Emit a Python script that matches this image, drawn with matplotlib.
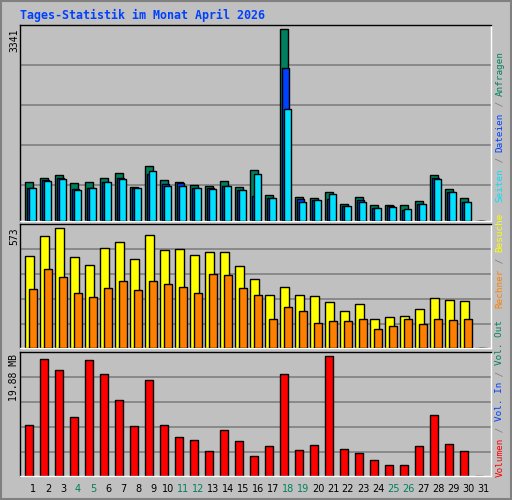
import matplotlib
matplotlib.use("Agg")
import matplotlib.pyplot as plt
import numpy as np

days = list(range(1, 32))
hits = [682,752,810,665,682,752,840,595,968,717,682,636,612,700,595,892,455,3341,420,402,507,297,420,280,280,280,350,810,560,402,0]
files = [577,717,752,560,577,682,752,577,828,647,665,577,577,612,542,437,402,2676,385,367,385,262,367,227,262,192,297,752,507,332,0]
pages = [577,700,735,542,577,682,735,577,875,612,612,577,560,612,542,822,402,1959,332,367,472,262,332,227,245,210,297,735,507,332,0]
visits = [439,535,573,435,396,478,506,425,540,468,473,444,458,458,392,330,253,291,253,248,220,177,210,139,148,153,186,239,229,224,0]
sites = [282,377,339,263,244,287,320,277,320,306,291,263,353,349,287,253,139,196,177,119,129,129,139,91,105,139,115,139,134,139,0]
volume = [8.38,19.38,17.55,9.72,19.21,16.88,12.55,8.22,15.88,8.38,6.39,5.89,4.05,7.55,5.72,3.22,4.89,16.88,4.22,5.05,19.88,4.39,3.72,2.55,1.72,1.72,4.89,10.05,5.22,4.05,0]
weekend = [4,5,11,12,18,19,25,26]
title = "Tages-Statistik im Monat April 2026"

W, H = 512, 500
BG = "#c0c0c0"
fig = plt.figure(figsize=(W/100, H/100), dpi=100, facecolor=BG)

def fx(p): return p / W
def fy(p): return 1 - p / H

x0, x1 = 20, 491
def day_to_x(px): return (px - 18) / 15.0
XL = (day_to_x(x0), day_to_x(x1))

def panel(top, bottom, data_top_px, vmax, grids):
    ax = fig.add_axes([fx(x0), fy(bottom), fx(x1 - x0), (bottom - top) / H])
    ax.set_facecolor(BG)
    k = vmax / (bottom - data_top_px)
    ax.set_ylim(0, (bottom - top) * k)
    ax.set_xlim(*XL)
    for g in grids:
        ax.axhline((bottom - g) * k, color="#808080", lw=1.2, zorder=0)
    ax.set_xticks([]); ax.set_yticks([])
    for s in ax.spines.values():
        s.set_color("black"); s.set_linewidth(1)
    ax.spines["bottom"].set_color("white"); ax.spines["right"].set_color("white")
    return ax

d = np.array(days, dtype=float)
# top panel
ax1 = panel(25, 221, 29.5, 3341, [65, 105, 145, 185])
w = 7.3 / 15
ax1.bar(d - 7.7/15, hits, width=w, align="edge", color="#00805c", edgecolor="black", lw=1, zorder=2)
ax1.bar(d - 6.0/15, files, width=w, align="edge", color="#0040ff", edgecolor="black", lw=1, zorder=3)
ax1.bar(d - 4.3/15, pages, width=w, align="edge", color="#00e0ff", edgecolor="black", lw=1, zorder=4)
# middle
ax2 = panel(224, 348.3, 228.3, 573, [249.3, 274.3, 299.3, 324.3])
ax2.bar(d - 7.7/15, visits, width=8.3/15, align="edge", color="#ffff00", edgecolor="black", lw=1, zorder=2)
ax2.bar(d - 3.7/15, sites, width=7.3/15, align="edge", color="#ff8000", edgecolor="black", lw=1, zorder=3)
# bottom
ax3 = panel(352, 475.7, 356.3, 19.88, [377.3, 402.3, 427.3, 452.3])
ax3.bar(d - 7.7/15, volume, width=w, align="edge", color="#ff0000", edgecolor="black", lw=1, zorder=2)

mono = "DejaVu Sans Mono"
fig.text(fx(20), fy(15), title, color="#0040ff", fontsize=8.4, family=mono, weight="bold", va="center", ha="left")

for lab, top in [("3341", 29), ("573", 227), ("19.88 MB", 354)]:
    fig.text(fx(14), fy(top), lab, rotation=90, fontsize=7, family=mono, ha="center", va="top", color="black")

for dd in days:
    fig.text(fx(18 + 15*dd), fy(489), str(dd), fontsize=7, ha="center", va="center",
             color="#00805c" if dd in weekend else "black")

CH = 5.6
def vlabel(base, parts):
    y = base
    for t, c in parts:
        fig.text(fx(500), fy(y), t, rotation=90, fontsize=6.7, family=mono, color=c, ha="center", va="bottom")
        y -= CH * len(t)

sep = "#808080"
vlabel(202, [("Seiten", "#00e0ff"), (" / ", sep), ("Dateien", "#0040ff"), (" / ", sep), ("Anfragen", "#00805c")])
vlabel(308, [("Rechner", "#ff8000"), (" / ", sep), ("Besuche", "#ffff00")])
vlabel(477, [("Volumen", "#ff0000"), (" / ", sep), ("Vol. In", "#0040ff"), (" / ", sep), ("Vol. Out", "#00805c")])

# outer border
fig.patches.append(plt.Rectangle((0.002, 0.002), 0.996, 0.996, transform=fig.transFigure, fill=False, edgecolor="#808080", lw=1.5))

fig.savefig("out.png", dpi=100, facecolor=BG)
